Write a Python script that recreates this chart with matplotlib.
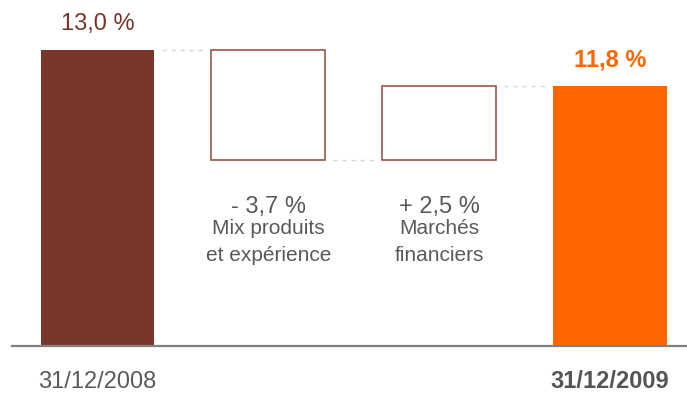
import matplotlib
matplotlib.use("Agg")
import matplotlib.pyplot as plt

plt.rcParams['font.family'] = ['Liberation Sans', 'DejaVu Sans']

# ---- data ----
dates = ["31/12/2008", "31/12/2009"]
start_value = 13.0
end_value = 11.8
change_values = [-3.7, 2.5]
change_names = ["Mix produits\net expérience", "Marchés\nfinanciers"]
value_labels = ["13,0 %", "- 3,7 %", "+ 2,5 %", "11,8 %"]
axis_floor = 3.05

# ---- style ----
BROWN = "#7A362A"
ORANGE = "#FF6600"
BOX_EDGE = "#95574D"
GRAY_TXT = "#5A5A5A"
CONNECT = "#D6D6D6"

fig = plt.figure(figsize=(6.87, 3.94), dpi=100)
ax = fig.add_axes([0, 0, 1, 1])
ax.set_xlim(-0.571, 3.451)
ax.set_ylim(14.684 - 394 / 29.7, 14.684)
ax.axis("off")

width = 0.667
x = [0, 1, 2, 3]

# start bar
ax.bar(x[0], start_value - axis_floor, bottom=axis_floor, width=width, color=BROWN, zorder=2)
# change boxes
level = start_value
levels = [start_value]
for i, ch in enumerate(change_values):
    new = level + ch
    ax.bar(x[i + 1], abs(ch), bottom=min(level, new), width=width, facecolor="white",
           edgecolor=BOX_EDGE, linewidth=1.2, zorder=2)
    level = new
    levels.append(level)
# end bar
ax.bar(x[3], end_value - axis_floor, bottom=axis_floor, width=width, color=ORANGE, zorder=2)

# connectors
gap = 0.045
for i, lv in enumerate(levels):
    ax.plot([x[i] + width / 2 + gap, x[i + 1] - width / 2 - gap], [lv, lv],
            color=CONNECT, lw=1.0, linestyle=(0, (3, 3.5)), zorder=1)

# baseline
ax.plot([-0.50, 3.451], [axis_floor, axis_floor], color="#808080", lw=1.6, zorder=3)

# top labels
ax.annotate(value_labels[0], xy=(x[0], start_value), xytext=(0, 14.5), textcoords="offset points",
            ha="center", va="baseline", fontsize=17, color=BROWN)
ax.annotate(value_labels[3], xy=(x[3], end_value), xytext=(0, 13.5), textcoords="offset points",
            ha="center", va="baseline", fontsize=17, color=ORANGE, fontweight="bold")

# change labels below boxes
box_bottom = min(levels)
for i in range(2):
    lines = change_names[i].split("\n")
    ax.annotate(value_labels[i + 1], xy=(x[i + 1], box_bottom), xytext=(0, -38.2),
                textcoords="offset points", ha="center", va="baseline", fontsize=17, color=GRAY_TXT)
    for j, line in enumerate(lines):
        ax.annotate(line, xy=(x[i + 1], box_bottom), xytext=(0, -53.5 - 19.4 * j),
                    textcoords="offset points", ha="center", va="baseline", fontsize=15, color=GRAY_TXT)

# date labels
ax.annotate(dates[0], xy=(x[0], axis_floor), xytext=(0, -30.5), textcoords="offset points",
            ha="center", va="baseline", fontsize=17, color=GRAY_TXT)
ax.annotate(dates[1], xy=(x[3], axis_floor), xytext=(0, -30.5), textcoords="offset points",
            ha="center", va="baseline", fontsize=17, color="#555555", fontweight="bold")

fig.savefig("out.png", dpi=100)
